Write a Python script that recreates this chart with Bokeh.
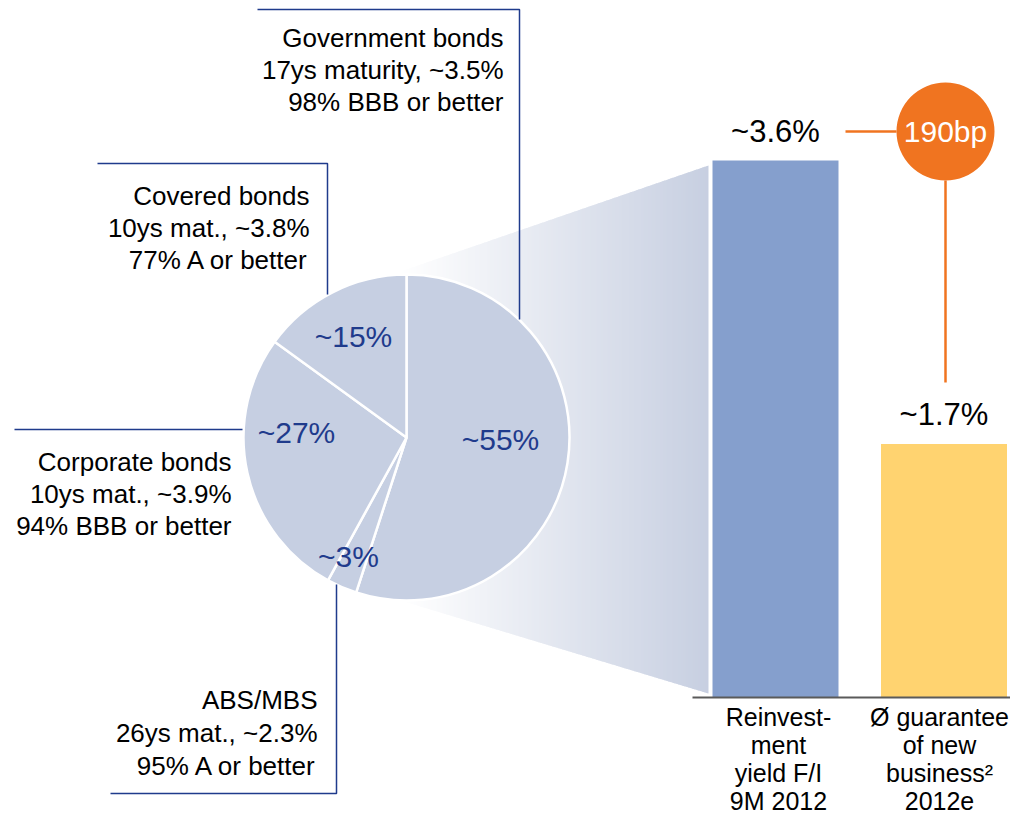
import math
from bokeh.plotting import figure
from bokeh.models import Range1d
from bokeh.core.properties import value
from bokeh.embed import file_html
from bokeh.resources import INLINE

# ---------------- data ----------------
segments = ["Government bonds", "ABS/MBS", "Corporate bonds", "Covered bonds"]
shares = [55, 3, 27, 15]
share_labels = ["~55%", "~3%", "~27%", "~15%"]
details = {
    "Government bonds": ["Government bonds", "17ys maturity, ~3.5%", "98% BBB or better"],
    "ABS/MBS": ["ABS/MBS", "26ys mat., ~2.3%", "95% A or better"],
    "Corporate bonds": ["Corporate bonds", "10ys mat., ~3.9%", "94% BBB or better"],
    "Covered bonds": ["Covered bonds", "10ys mat., ~3.8%", "77% A or better"],
}
bar_names = [["Reinvest-", "ment", "yield F/I", "9M 2012"],
             ["Ø guarantee", "of new", "business²", "2012e"]]
bar_values = [3.6, 1.7]
bar_labels = ["~3.6%", "~1.7%"]
spread_label = "190bp"

# ---------------- layout / style ----------------
W, H = 1010, 816
FONT = value("Liberation Sans")
NAVY = "#1F3B8C"
PIE = "#C6CFE2"
BAR_COLORS = ["#859FCD", "#FFD370"]
ORANGE = "#F07420"


def Y(img_y):
    # picture row -> data y (y grows upward)
    return H - img_y


p = figure(width=W, height=H, x_range=Range1d(0, W), y_range=Range1d(0, H),
           output_backend="svg", toolbar_location=None, min_border=0)
p.axis.visible = False
p.grid.visible = False
p.outline_line_color = None
p.background_fill_color = "white"

# percent scale for the bars: 0% at row 697, 3.6% at row 160
base_row, top_row, top_val = 697, 160, 3.6
ppu = (base_row - top_row) / top_val
p.extra_y_ranges = {"pct": Range1d(start=-(H - base_row) / ppu, end=base_row / ppu)}

# ---------------- gradient funnel ----------------
x0, x1 = 400, 708
top0, top1 = 271, 165
bot0, bot1 = 600, 693
N = 154
c0 = (255, 255, 255)
c1 = (199, 207, 225)


def tp(x):
    return top0 + (top1 - top0) * (x - x0) / (x1 - x0)


def bt(x):
    return bot0 + (bot1 - bot0) * (x - x0) / (x1 - x0)


xs, ys, cols = [], [], []
for i in range(N):
    xa = x0 + (x1 - x0) * i / N
    xb = x0 + (x1 - x0) * (i + 1) / N + (0.8 if i < N - 1 else 0)
    xs.append([xa, xb, xb, xa])
    ys.append([Y(tp(xa)), Y(tp(xb)), Y(bt(xb)), Y(bt(xa))])
    t = (i + 0.5) / N
    c = tuple(int(round(c0[k] + (c1[k] - c0[k]) * t)) for k in range(3))
    cols.append("#%02x%02x%02x" % c)
p.patches(xs, ys, fill_color=cols, line_color=None)

# ---------------- pie ----------------
cx, cy, r = 406, Y(437), 163
total = sum(shares)
cum = 0
starts, ends = [], []
for s in shares:
    starts.append(math.radians(90 - cum / total * 360))
    cum += s
    ends.append(math.radians(90 - cum / total * 360))
p.wedge(x=[cx] * len(shares), y=[cy] * len(shares), radius=r,
        start_angle=starts, end_angle=ends, direction="clock",
        fill_color=PIE, line_color="white", line_width=2.5)

pie_label_pos = {"Government bonds": (500, 439), "ABS/MBS": (348, 556),
                 "Corporate bonds": (296, 432), "Covered bonds": (353, 336)}
p.text(x=[pie_label_pos[s][0] for s in segments], y=[Y(pie_label_pos[s][1]) for s in segments],
       text=share_labels, text_font=FONT, text_font_size="30px", text_color=NAVY,
       text_align="center", text_baseline="middle")

# ---------------- callouts ----------------
callout_lines = {
    "Government bonds": [(257, 9), (519, 9), (519, 319)],
    "Covered bonds": [(97, 163), (327, 163), (327, 294)],
    "Corporate bonds": [(14, 429), (242, 429)],
    "ABS/MBS": [(336, 584), (336, 793), (110, 793)],
}
p.multi_line(xs=[[pt[0] for pt in callout_lines[s]] for s in segments],
             ys=[[Y(pt[1]) for pt in callout_lines[s]] for s in segments],
             line_color=NAVY, line_width=1.5)

callout_text = {"Government bonds": (503, 37, 32), "Covered bonds": (309, 195, 32),
                "Corporate bonds": (231, 461, 32), "ABS/MBS": (317, 699, 33)}
tx, ty, tt = [], [], []
for s in segments:
    ax, ay, sp = callout_text[s]
    for k, line in enumerate(details[s]):
        tx.append(ax)
        ty.append(Y(ay + k * sp))
        tt.append(line)
p.text(x=tx, y=ty, text=tt, text_font=FONT, text_font_size="26px", text_color="#000000",
       text_align="right", text_baseline="middle")

# ---------------- bars ----------------
bar_x = [775, 943.5]
bar_w = 126
p.vbar(x=bar_x, top=bar_values, bottom=0, width=bar_w, fill_color=BAR_COLORS,
       line_color=None, y_range_name="pct")
p.segment(x0=[692], y0=[0], x1=[W], y1=[0], line_color="#5A5A5A", line_width=2,
          y_range_name="pct")
p.text(x=bar_x, y=bar_values, text=bar_labels, y_range_name="pct", y_offset=-29,
       text_font=FONT, text_font_size="31px", text_color="#000000",
       text_align="center", text_baseline="middle")

bx, by, bt_ = [], [], []
name_rows = [716, 744, 772, 800]
name_x = [778, 939]
for i, lines in enumerate(bar_names):
    for k, line in enumerate(lines):
        bx.append(name_x[i])
        by.append(Y(name_rows[k]))
        bt_.append(line)
p.text(x=bx, y=by, text=bt_, text_font=FONT, text_font_size="25px", text_color="#000000",
       text_align="center", text_baseline="middle")

# ---------------- spread marker ----------------
ccx, ccy, cr = 945, 131, 49
p.segment(x0=[845, ccx], y0=[Y(ccy), Y(ccy + cr)], x1=[ccx - cr, ccx], y1=[Y(ccy), Y(382)],
          line_color=ORANGE, line_width=2.5)
p.circle(x=[ccx], y=[Y(ccy)], radius=cr, fill_color=ORANGE, line_color=None)
p.text(x=[ccx], y=[Y(ccy)], text=[spread_label], text_font=FONT, text_font_size="30px",
       text_color="white", text_align="center", text_baseline="middle")

open("out.html", "w").write(file_html(p, INLINE))
